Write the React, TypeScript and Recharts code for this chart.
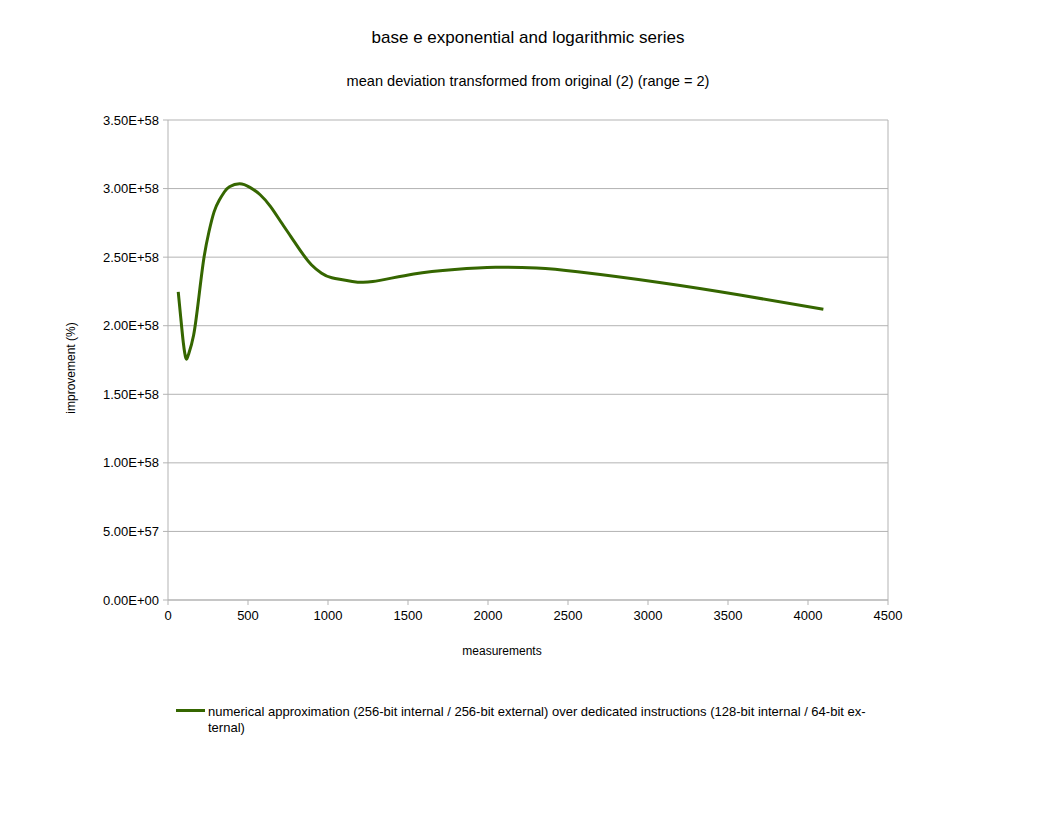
import { CartesianGrid, Line, LineChart, ReferenceLine, XAxis, YAxis } from "recharts";

const measurements = [
  64, 80, 96, 112, 128, 160, 192, 224, 256, 288, 320, 352, 384, 448, 512, 576, 640, 704, 768, 832, 896,
  960, 1024, 1152, 1280, 1536, 1792, 2048, 2304, 2560, 3072, 3584, 4096,
];

// improvement values, in units of 1E+58
const improvement = [
  2.246, 2.056, 1.874, 1.762, 1.79, 1.93, 2.2, 2.49, 2.685, 2.83, 2.915, 2.975, 3.013, 3.035, 3.009,
  2.955, 2.87, 2.76, 2.65, 2.54, 2.445, 2.383, 2.35, 2.323, 2.322, 2.377, 2.41, 2.426, 2.42, 2.393,
  2.315, 2.222, 2.12,
];

const xTicks = [0, 500, 1000, 1500, 2000, 2500, 3000, 3500, 4000, 4500];
const yTicks = [0, 0.5e58, 1e58, 1.5e58, 2e58, 2.5e58, 3e58, 3.5e58];

const seriesName =
  "numerical approximation (256-bit internal / 256-bit external) over dedicated instructions (128-bit internal / 64-bit ex-ternal)";

const data = measurements.map((m, i) => ({ m, v: improvement[i] * 1e58 }));

const fmtSci = (v: number) => {
  if (v === 0) return "0.00E+00";
  const e = Math.floor(Math.log10(v) + 1e-9);
  const mant = v / Math.pow(10, e);
  return `${mant.toFixed(2)}E+${String(e).padStart(2, "0")}`;
};

const GREEN = "#356600";
const GRID = "#b3b3b3";
const font = "'Liberation Sans', Arial, sans-serif";

export default function App() {
  const tick = { fontSize: 13, fill: "#000", fontFamily: font };
  return (
    <div style={{ position: "absolute", left: 0, top: 0, width: 1056, height: 816, background: "#fff", fontFamily: font }}>
      <LineChart width={1056} height={816} data={data} margin={{ top: 120, right: 168, bottom: 186, left: 100 }}>
        <CartesianGrid vertical={false} stroke={GRID} />
        <ReferenceLine x={4500} stroke={GRID} />
        <XAxis
          dataKey="m"
          type="number"
          domain={[0, 4500]}
          ticks={xTicks}
          height={30}
          tick={tick}
          tickSize={5}
          tickMargin={6}
          stroke={GRID}
          interval={0}
        />
        <YAxis
          type="number"
          domain={[0, 3.5e58]}
          ticks={yTicks}
          width={68}
          tick={tick}
          tickSize={5}
          tickMargin={4}
          stroke={GRID}
          tickFormatter={fmtSci}
          interval={0}
        />
        <Line
          type="natural"
          dataKey="v"
          stroke={GREEN}
          strokeWidth={3}
          dot={false}
          isAnimationActive={false}
        />
      </LineChart>

      <div style={{ position: "absolute", left: 0, width: 1056, top: 28, textAlign: "center", fontSize: 17 }}>
        base e exponential and logarithmic series
      </div>
      <div style={{ position: "absolute", left: 0, width: 1056, top: 73, textAlign: "center", fontSize: 14.6 }}>
        mean deviation transformed from original (2) (range = 2)
      </div>
      <div style={{ position: "absolute", left: 0, width: 1004, top: 644, textAlign: "center", fontSize: 12 }}>
        measurements
      </div>
      <div
        style={{
          position: "absolute",
          left: 71,
          top: 368,
          fontSize: 12,
          whiteSpace: "nowrap",
          transform: "translate(-50%, -50%) rotate(-90deg)",
        }}
      >
        improvement (%)
      </div>

      <div style={{ position: "absolute", left: 176, top: 709, width: 29, height: 3, background: GREEN }} />
      <div style={{ position: "absolute", left: 208, top: 704, width: 665, fontSize: 13, lineHeight: "16px" }}>
        {seriesName.slice(0, seriesName.indexOf("ex-") + 3)}
        <br />
        {seriesName.slice(seriesName.indexOf("ex-") + 3)}
      </div>
    </div>
  );
}
